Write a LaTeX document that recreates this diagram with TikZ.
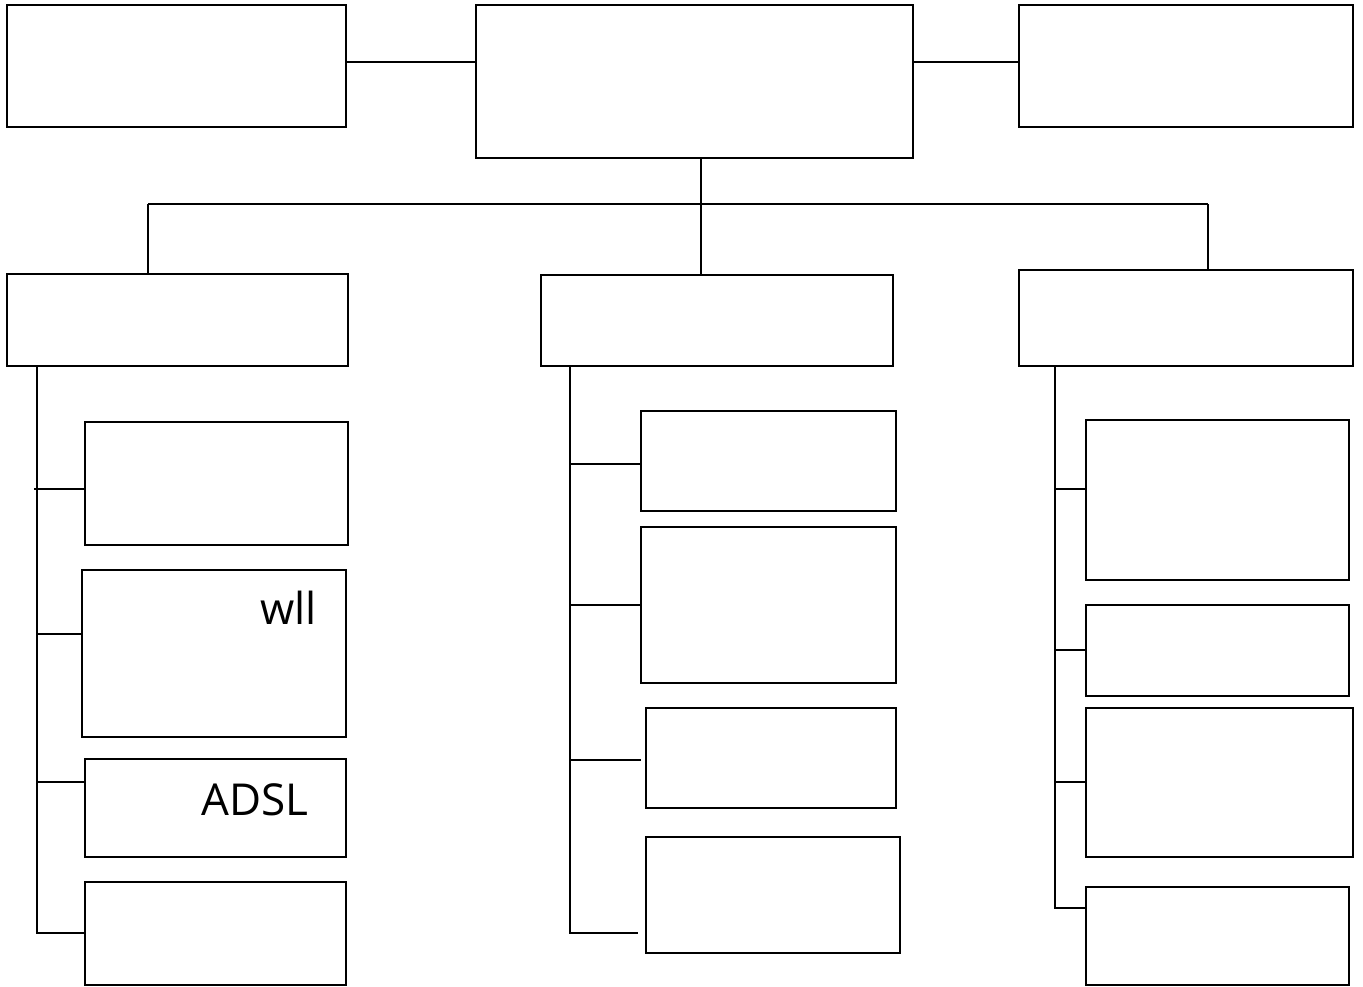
\documentclass[tikz,border=0pt]{standalone}
\usepackage{fontspec}
\setmainfont{Open Sans}
\begin{document}
\begin{tikzpicture}[x=1pt,y=-1pt,
  box/.style={draw,line width=1.6pt,inner sep=0pt,fill=white},
  conn/.style={line width=1.6pt},
  lbl/.style={inner sep=0pt,font=\fontsize{44}{52}\selectfont,anchor=base}]
\useasboundingbox (0,0) rectangle (1363,986);
% top row
\node[box,minimum width=339pt,minimum height=122pt] (TL) at (176.5,66) {};
\node[box,minimum width=437pt,minimum height=153pt] (TC) at (694.5,81.5) {};
\node[box,minimum width=334pt,minimum height=122pt] (TR) at (1186,66) {};
% second row
\node[box,minimum width=341pt,minimum height=92pt] (L) at (177.5,320) {};
\node[box,minimum width=352pt,minimum height=91pt] (M) at (717,320.5) {};
\node[box,minimum width=334pt,minimum height=96pt] (R) at (1186,318) {};
% left column
\node[box,minimum width=263pt,minimum height=123pt] (L1) at (216.5,483.5) {};
\node[box,minimum width=264pt,minimum height=167pt] (L2) at (214,653.5) {};
\node[box,minimum width=261pt,minimum height=98pt] (L3) at (215.5,808) {};
\node[box,minimum width=261pt,minimum height=103pt] (L4) at (215.5,933.5) {};
% middle column
\node[box,minimum width=255pt,minimum height=100pt] (M1) at (768.5,461) {};
\node[box,minimum width=255pt,minimum height=156pt] (M2) at (768.5,605) {};
\node[box,minimum width=250pt,minimum height=100pt] (M3) at (771,758) {};
\node[box,minimum width=254pt,minimum height=116pt] (M4) at (773,895) {};
% right column
\node[box,minimum width=263pt,minimum height=160pt] (R1) at (1217.5,500) {};
\node[box,minimum width=263pt,minimum height=91pt] (R2) at (1217.5,650.5) {};
\node[box,minimum width=267pt,minimum height=149pt] (R3) at (1219.5,782.5) {};
\node[box,minimum width=263pt,minimum height=98pt] (R4) at (1217.5,936) {};
% labels
\node[lbl] (twll) at (288.5,624) {wll};
\node[lbl] (tadsl) at (255,815) {ADSL};
% top connectors
\coordinate (hl) at (346,62);
\coordinate (hr) at (913,62);
\draw[conn] (hl -| TL.east) -- (hl -| TC.west);
\draw[conn] (hr -| TC.east) -- (hr -| TR.west);
% bus
\coordinate (j) at (701,204);
\coordinate (bl) at (148,204);
\coordinate (br) at (1208,204);
\draw[conn] (j |- TC.south) -- (j);
\draw[conn] (bl) -- (br);
\draw[conn] (bl) -- (bl |- L.north);
\draw[conn] (j) -- (j |- M.north);
\draw[conn] (br) -- (br |- R.north);
% left spine
\coordinate (sL) at (37,933);
\draw[conn] (sL |- L.south) -- (sL) -- (sL -| L4.west);
\coordinate (a1) at (34,489);
\coordinate (a2) at (37,634);
\coordinate (a3) at (37,782);
\draw[conn] (a1) -- (a1 -| L1.west);
\draw[conn] (a2) -- (a2 -| L2.west);
\draw[conn] (a3) -- (a3 -| L3.west);
% middle spine
\coordinate (sM) at (570,933);
\coordinate (m4e) at (638,933);
\draw[conn] (sM |- M.south) -- (sM) -- (m4e);
\coordinate (b1) at (570,464);
\coordinate (b2) at (570,605);
\coordinate (b3) at (570,760);
\coordinate (m3e) at (641,760);
\draw[conn] (b1) -- (b1 -| M1.west);
\draw[conn] (b2) -- (b2 -| M2.west);
\draw[conn] (b3) -- (m3e);
% right spine
\coordinate (sR) at (1055,908);
\draw[conn] (sR |- R.south) -- (sR) -- (sR -| R4.west);
\coordinate (c1) at (1055,489);
\coordinate (c2) at (1055,650);
\coordinate (c3) at (1055,782);
\draw[conn] (c1) -- (c1 -| R1.west);
\draw[conn] (c2) -- (c2 -| R2.west);
\draw[conn] (c3) -- (c3 -| R3.west);
\end{tikzpicture}
\end{document}
